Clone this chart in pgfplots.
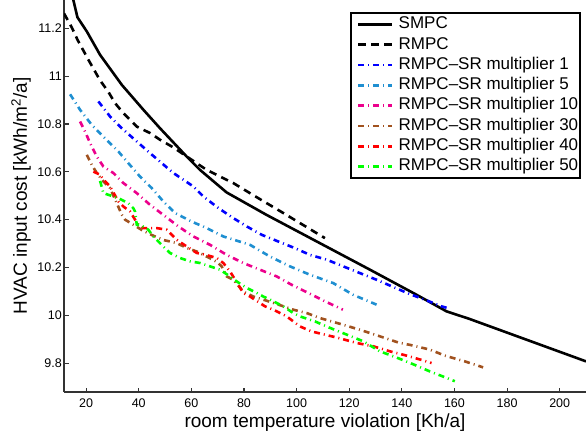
\documentclass[border=0pt]{standalone}
\usepackage{pgfplots}
\pgfplotsset{compat=1.18}
\usepackage{fontspec}
\setmainfont{Liberation Sans}

\definecolor{sr5}{rgb}{0.12,0.56,0.82}
\definecolor{sr30}{rgb}{0.63,0.32,0.12}

\begin{document}
\begin{tikzpicture}

\begin{axis}[
  name=ax,
  width=522pt,
  height=392pt,
  scale only axis,
  xmin=11.6, xmax=210,
  ymin=9.68, ymax=11.318,
  axis x line*=bottom,
  axis y line*=left,
  axis line style={black!80, line width=1.1pt, -},
  tick style={black!80, line width=1.1pt},
  tick align=inside,
  major tick length=4.5pt,
  xtick={20,40,...,200},
  ytick={9.8,10,10.2,10.4,10.6,10.8,11,11.2},
  /pgf/number format/assume math mode=true,
  tick label style={font=\fontsize{12.5}{12.5}\selectfont},
  xticklabel style={inner sep=0pt, anchor=north, yshift=-7pt},
  yticklabel style={inner sep=0pt, anchor=east, xshift=-2pt},
  xlabel={room temperature violation [Kh/a]},
  ylabel={HVAC input cost [kWh/m\textsuperscript{2}/a]},
  label style={font=\fontsize{19}{19}\selectfont, inner sep=0pt},
  xlabel style={at={(axis description cs:0.5,-0.0911)}, anchor=base},
  ylabel style={at={(axis description cs:-0.0709,0.5)}, anchor=base, rotate=0},
  legend style={
    at={(1,1)}, anchor=north east, xshift=-5pt, yshift=-12pt,
    draw=black, line width=1.6pt, fill=white,
    inner xsep=1pt, inner ysep=1.5pt,
    font=\fontsize{17}{17}\selectfont,
    column sep=4pt,
    nodes={inner xsep=1pt, inner ysep=2pt, text height=12.5pt, text depth=3.8pt},
  },
  legend cell align=left,
  legend image code/.code={
    \path (0pt,0pt);
    \draw[#1] (5pt,0pt) -- (39pt,0pt);
  },
  every axis plot/.append style={line width=2.6pt},
]

% SMPC
\addplot[black, solid] coordinates {(15.0,11.325) (16.7,11.246) (20.3,11.186) (25.3,11.089) (33.6,10.963) (41.8,10.859) (48.1,10.782) (58.2,10.664) (63.3,10.608) (73.4,10.514) (88.6,10.420) (127.9,10.191) (144.3,10.094) (157.0,10.017) (165.8,9.985) (210,9.808)};
\addlegendentry{SMPC}

% RMPC
\addplot[black, dash pattern=on 7.5pt off 5.5pt] coordinates {(11.6,11.262) (14.57,11.203) (16.77,11.151) (21.14,11.063) (25.32,10.982) (28.47,10.934) (31.01,10.887) (34.17,10.845) (39.26,10.789) (44.31,10.762) (48.10,10.734) (53.16,10.702) (58.25,10.664) (65.84,10.608) (75.94,10.553) (85.44,10.490) (94.93,10.428) (104.43,10.365) (110.77,10.323)};
\addlegendentry{RMPC}

% multiplier 1
\addplot[blue, dash pattern=on 6pt off 4pt on 1pt off 4pt] coordinates {(24.67,10.894) (29.12,10.831) (33.56,10.782) (39.26,10.727) (44.31,10.678) (53.16,10.595) (60.75,10.539) (64.55,10.497) (70.25,10.449) (75.33,10.411) (81.03,10.372) (86.73,10.337) (93.04,10.309) (99.38,10.281) (105.08,10.253) (111.42,10.233) (117.72,10.205) (124.06,10.177) (130.41,10.149) (136.71,10.119) (143.05,10.089) (149.40,10.063) (155.09,10.038) (158.25,10.028)};
\addlegendentry{RMPC--SR multiplier 1}

% multiplier 5
\addplot[sr5, dash pattern=on 6pt off 4pt on 1pt off 4pt] coordinates {(13.92,10.924) (17.72,10.859) (22.16,10.796) (26.57,10.747) (32.27,10.685) (36.07,10.636) (40.51,10.580) (44.96,10.532) (49.36,10.476) (53.80,10.428) (60.14,10.392) (65.84,10.365) (72.14,10.330) (82.29,10.295) (89.88,10.246) (97.48,10.205) (105.08,10.170) (113.93,10.135) (121.52,10.086) (130.4,10.045)};
\addlegendentry{RMPC--SR multiplier 5}

% multiplier 10
\addplot[magenta, dash pattern=on 6pt off 4pt on 1pt off 4pt] coordinates {(17.72,10.810) (19.62,10.768) (21.52,10.720) (24.06,10.664) (26.57,10.622) (30.37,10.595) (34.17,10.553) (39.26,10.511) (44.31,10.462) (49.36,10.420) (55.06,10.372) (60.75,10.330) (67.10,10.295) (73.44,10.253) (79.74,10.219) (86.09,10.191) (92.43,10.163) (98.13,10.128) (104.43,10.094) (110.77,10.059) (117.6,10.024)};
\addlegendentry{RMPC--SR multiplier 10}

% multiplier 30
\addplot[sr30, dash pattern=on 6pt off 4pt on 1pt off 4pt] coordinates {(20.27,10.671) (22.16,10.629) (24.06,10.595) (26.57,10.560) (29.12,10.532) (30.37,10.500) (31.66,10.469) (33.56,10.421) (34.82,10.400) (37.96,10.379) (41.16,10.357) (44.95,10.336) (49.36,10.315) (51.90,10.309) (54.45,10.302) (58.25,10.282) (62.05,10.267) (65.84,10.246) (69.64,10.224) (71.54,10.205) (73.44,10.163) (75.95,10.149) (79.74,10.100) (83.54,10.079) (89.88,10.057) (98.73,10.024) (103.82,10.010) (108.87,9.989) (117.72,9.961) (124.06,9.940) (131.01,9.915) (138.61,9.887) (144.31,9.874) (150.65,9.857) (156.35,9.832) (163.95,9.808) (170.9,9.783)};
\addlegendentry{RMPC--SR multiplier 30}

% multiplier 40
\addplot[red, dash pattern=on 6pt off 4pt on 1pt off 4pt] coordinates {(22.77,10.601) (25.32,10.588) (26.57,10.567) (29.12,10.539) (32.27,10.476) (34.17,10.455) (36.71,10.434) (38.61,10.400) (39.86,10.379) (41.76,10.365) (46.85,10.365) (50.65,10.358) (51.90,10.344) (54.45,10.316) (58.25,10.288) (62.05,10.261) (65.20,10.254) (69.64,10.240) (72.15,10.219) (74.69,10.184) (79.74,10.094) (82.29,10.079) (87.98,10.038) (91.14,10.024) (96.23,9.996) (101.28,9.954) (105.72,9.933) (115.83,9.906) (122.81,9.885) (129.12,9.871) (135.46,9.850) (141.80,9.832) (148.11,9.812) (151.30,9.801)};
\addlegendentry{RMPC--SR multiplier 40}

% multiplier 50
\addplot[green, dash pattern=on 6pt off 4pt on 1pt off 4pt] coordinates {(25.32,10.562) (26.57,10.511) (30.37,10.497) (32.27,10.490) (36.07,10.469) (37.96,10.448) (38.61,10.434) (39.26,10.379) (40.51,10.379) (43.66,10.358) (45.56,10.330) (49.36,10.288) (51.90,10.261) (55.70,10.240) (59.50,10.226) (63.30,10.219) (67.10,10.205) (70.89,10.191) (74.69,10.163) (77.24,10.142) (81.04,10.115) (84.83,10.094) (87.34,10.079) (89.88,10.066) (94.93,10.038) (98.73,10.010) (101.28,9.996) (106.97,9.975) (112.67,9.948) (119.01,9.920) (125.32,9.892) (131.65,9.850) (137.99,9.824) (144.31,9.796) (150.65,9.766) (156.99,9.739) (160.14,9.725)};
\addlegendentry{RMPC--SR multiplier 50}

\end{axis}

\pgfresetboundingbox
\path (ax.south west) ++(-64pt,-42pt) rectangle (ax.north east);

\end{tikzpicture}
\end{document}
